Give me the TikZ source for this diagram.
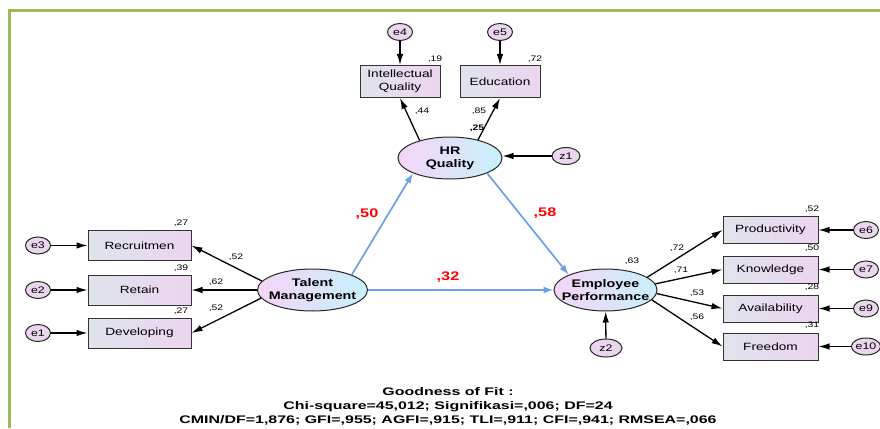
\documentclass[tikz,border=0pt]{standalone}
\usepackage{fontspec}
\setmainfont{Liberation Sans}[FakeStretch=1.3]
\newfontfamily\widesans{Liberation Sans}[FakeStretch=1.45]
\usetikzlibrary{arrows.meta,shapes.geometric}
\definecolor{framegreen}{HTML}{9BBB59}
\definecolor{boxleft}{HTML}{DFE3EC}
\definecolor{boxright}{HTML}{ECD5F0}
\definecolor{latleft}{HTML}{F5D5F7}
\definecolor{latright}{HTML}{C8F0FB}
\definecolor{errfill}{HTML}{EAD7EE}
\definecolor{pathblue}{HTML}{6A9FEA}
\definecolor{pathred}{HTML}{FF0000}
\tikzstyle{itembox} = [draw=black!80, line width=1pt, left color=boxleft, right color=boxright, minimum height=30pt, inner sep=1pt, align=center, font=\fontsize{10.5}{13}\selectfont]
\tikzstyle{latent} = [ellipse, draw=black!85, line width=1pt, left color=latleft, right color=latright, minimum width=104pt, minimum height=42pt, inner xsep=-10pt, inner ysep=0pt, align=center, font=\fontsize{11}{13}\selectfont\bfseries]
\tikzstyle{errnode} = [ellipse, draw=black!85, line width=1pt, fill=errfill, minimum width=25pt, minimum height=17pt, inner sep=0pt, font=\fontsize{9.5}{9.5}\selectfont]
\tikzstyle{coef} = [inner sep=0pt, font=\fontsize{8}{8}\selectfont]
\tikzstyle{pathcoef} = [inner sep=0pt, text=pathred, font=\fontsize{12.5}{12.5}\selectfont\bfseries]
\tikzstyle{loadarrow} = [line width=1.3pt, -{Latex[length=11pt,width=6.5pt]}]
\tikzstyle{patharrow} = [line width=1.7pt, draw=pathblue, -{Latex[length=10pt,width=7pt]}]
\tikzstyle{fitnote} = [inner sep=0pt, align=center, font=\widesans\fontsize{11}{14}\selectfont\bfseries]

\begin{document}
\begin{tikzpicture}[x=1pt,y=-1pt]
    \useasboundingbox (0,0) rectangle (880,428);
    \draw[framegreen, line width=3pt] (9.5,428) -- (9.5,11) -- (880,11);
    % latent variables
    \node[latent, minimum width=110pt] (tm) at (312.5,290) {Talent\\Management};
    \node[latent] (hrq) at (450,158) {HR\\Quality};
    \node[latent, minimum width=103pt] (ep) at (605.5,290) {Employee\\Performance};
    % talent management
    \foreach \nm/\err/\txt/\y/\rsq/\ang/\lam/\lx/\ly in {recr/e3/Recruitmen/245.5/27/170/52/236/257, reta/e2/Retain/290/39/180/62/216/282, deve/e1/Developing/333/27/189/52/216/308}
    {
        \node[itembox, minimum width=103pt] (\nm) at (139.5,\y) {\txt};
        \node[errnode] (\err) at (38,\y) {\err};
        \node[coef] (r\nm) at (181,\y-22) {,\rsq};
        \node[coef] (l\nm) at (\lx,\ly) {,\lam};
        \draw[loadarrow] (\err) -- (\nm);
        \draw[loadarrow] (tm.\ang) -- (\nm.east);
    }
    % hr quality
    \node[itembox, minimum width=80pt, minimum height=32pt] (intel) at (400,81.5) {Intellectual\\Quality};
    \node[itembox, minimum width=80pt, minimum height=32pt] (educ) at (500,81.5) {Education};
    \node[errnode] (e4) at (400,32) {e4};
    \node[errnode] (e5) at (500,32) {e5};
    \node[errnode, minimum width=28pt] (z1) at (566,156) {z1};
    \node[coef] (rintel) at (435,59) {,19};
    \node[coef] (reduc) at (535,59) {,72};
    \node[coef] (lintel) at (422,111) {,44};
    \node[coef] (leduc) at (479,111) {,85};
    \node[coef, font=\fontsize{8}{8}\selectfont\bfseries] (rhrq) at (477,128) {,25};
    \draw[loadarrow] (e4) -- (intel);
    \draw[loadarrow] (e5) -- (educ);
    \draw[loadarrow] (hrq.150) -- (intel.south);
    \draw[loadarrow] (hrq.33) -- (educ.south);
    \draw[loadarrow] (z1) -- (z1 -| hrq.east);
    % employee performance
    \foreach \nm/\err/\txt/\y/\rsq/\ang/\lam/\lx/\ly in {prod/e6/Productivity/230/52/17/72/677/248, know/e7/Knowledge/269.5/50/7/71/681/270, avai/e9/Availability/308.5/28/-4/53/697/293, free/e10/Freedom/346.5/31/-12/56/697/317}
    {
        \node[itembox, minimum width=95pt, minimum height=27pt] (\nm) at (770.5,\y) {\txt};
        \node[errnode] (\err) at (866,\y) {\err};
        \node[coef] (r\nm) at (812,\y-21) {,\rsq};
        \node[coef] (l\nm) at (\lx,\ly) {,\lam};
        \draw[loadarrow] (\err) -- (\nm);
        \draw[loadarrow] (ep.\ang) -- (\nm.west);
    }
    \node[errnode, minimum width=32pt, minimum height=18pt] (z2) at (606,348) {z2};
    \node[coef] (rep) at (632,261) {,63};
    \draw[loadarrow] (z2) -- (ep);
    % structural paths
    \draw[patharrow] (tm.north east) -- (hrq.south west);
    \draw[patharrow] (hrq.south east) -- (ep.north west);
    \draw[patharrow] (tm) -- (ep);
    \node[pathcoef] (b1) at (367,214) {,50};
    \node[pathcoef] (b2) at (545,213) {,58};
    \node[pathcoef] (b3) at (448,277) {,32};
    \node[fitnote] (fit) at (448,406) {Goodness of Fit :\\Chi-square=45,012; Signifikasi=,006; DF=24\\CMIN/DF=1,876; GFI=,955; AGFI=,915; TLI=,911; CFI=,941; RMSEA=,066};
\end{tikzpicture}
\end{document}
